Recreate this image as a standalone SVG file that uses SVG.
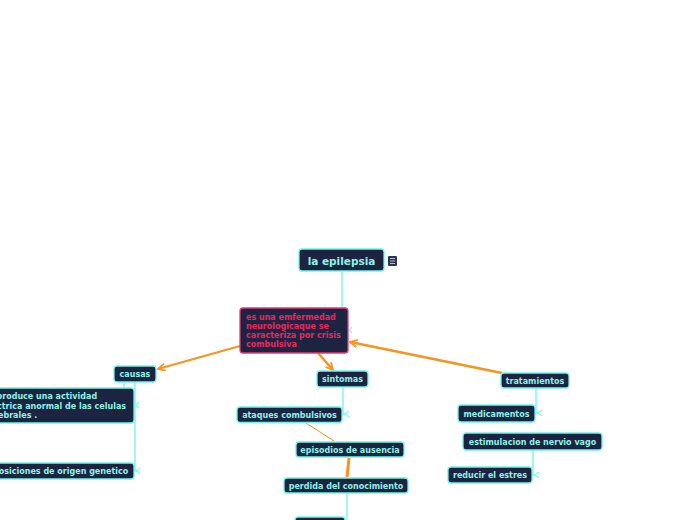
<svg xmlns="http://www.w3.org/2000/svg" width="697" height="520" viewBox="0 0 697 520">
<defs>
<style>
.n{fill:#1c2441;stroke:#6ff5e6;stroke-width:1.3}
.t{font-family:"DejaVu Sans",Verdana,sans-serif;font-weight:bold;font-size:8px;fill:#8ef2e6}
.c{text-anchor:middle}
.cy{fill:none;stroke:#7ff7ea;stroke-width:1.5}
.or{fill:none;stroke:#f7931e}
.mk{fill:none;stroke:#7ff7ea;stroke-width:1.2}
</style>
<marker id="ah" viewBox="0 0 10 10" refX="9" refY="5" markerWidth="9" markerHeight="9" markerUnits="userSpaceOnUse" orient="auto">
<path d="M1,1 L9,5 L1,9" fill="none" stroke="#f7931e" stroke-width="2"/>
</marker>
</defs>
<rect width="697" height="520" fill="#ffffff"/>
<g id="connectors">
<path class="cy" d="M342,272 V330 H348"/>
<path class="mk" d="M352,327 L349,330 L352,333"/>
<path class="cy" d="M124,382 V390"/>
<path class="cy" d="M135,382 V471 H137"/>
<path class="mk" d="M139,402 L136,405 L139,408"/>
<path class="mk" d="M140,468 L137,471 L140,474"/>
<path class="cy" d="M343,387 V414 H345"/>
<path class="mk" d="M349,411 L345,414 L349,417"/>
<path class="cy" d="M347,493 V520"/>
<path class="cy" d="M536,388 V413 H538"/>
<path class="mk" d="M542,410 L538,413 L542,416"/>
<path class="cy" d="M533,450 V475 H535"/>
<path class="mk" d="M539,472 L535,475 L539,478"/>
<path class="or" stroke-width="2" d="M240,346 L158,369" marker-end="url(#ah)"/>
<path class="or" stroke-width="2.5" d="M318,353 L333,370" marker-end="url(#ah)"/>
<path class="or" stroke-width="2.5" d="M502,373 L350,342" marker-end="url(#ah)"/>
<path class="or" stroke-width="1" d="M306,423 L334,441"/>
<path class="or" stroke-width="3" d="M349,458 L347,477"/>
</g>
<g id="root">
<rect class="n" x="299" y="249" width="85" height="22" rx="3"/>
<text class="t c" x="341.5" y="264.5" style="font-size:10.5px">la epilepsia</text>
<rect x="388" y="256" width="9" height="10" rx="1" fill="#2b3452"/>
<path d="M390,258.5 H395 M390,261 H395 M390,263.5 H395" stroke="#b8c0cc" stroke-width="1"/>
</g>
<g id="definicion">
<rect x="240" y="308" width="108" height="45" rx="3" fill="#1c2441" stroke="#e23b73" stroke-width="1.3"/>
<text class="t" x="246" y="320" style="fill:#ec2660">es una emfermedad</text>
<text class="t" x="246" y="329" style="fill:#ec2660">neurologicaque se</text>
<text class="t" x="246" y="338" style="fill:#ec2660">caracteriza por crisis</text>
<text class="t" x="246" y="347" style="fill:#ec2660">combulsiva</text>
</g>
<g id="causas">
<rect class="n" x="114" y="366" width="42" height="16" rx="3"/>
<text class="t c" x="135" y="377">causas</text>
</g>
<g id="causa1">
<rect class="n" x="-10" y="388" width="144" height="35" rx="3"/>
<text class="t" x="-3.5" y="399">produce una actividad</text>
<text class="t" x="-3" y="409">ctrica anormal de las celulas</text>
<text class="t" x="-2" y="418">ebrales .</text>
</g>
<g id="causa2">
<rect class="n" x="-10" y="463" width="144" height="16" rx="3"/>
<text class="t" x="-7" y="474">posiciones de origen genetico</text>
</g>
<g id="sintomas">
<rect class="n" x="317" y="371" width="51" height="16" rx="3"/>
<text class="t c" x="342.5" y="382">sintomas</text>
</g>
<g id="ataques">
<rect class="n" x="237" y="407" width="105" height="15.5" rx="3"/>
<text class="t c" x="289.5" y="418">ataques combulsivos</text>
</g>
<g id="episodios">
<rect class="n" x="296" y="442" width="108" height="15" rx="3"/>
<text class="t c" x="350" y="453">episodios de ausencia</text>
</g>
<g id="perdida">
<rect class="n" x="284" y="478" width="124" height="15" rx="3"/>
<text class="t c" x="346" y="489">perdida del conocimiento</text>
</g>
<g id="sintoma4">
<rect class="n" x="295" y="517" width="50" height="16" rx="3"/>
</g>
<g id="tratamientos">
<rect class="n" x="501" y="373" width="68" height="15" rx="3"/>
<text class="t c" x="535" y="384">tratamientos</text>
</g>
<g id="medicamentos">
<rect class="n" x="458" y="405" width="77" height="17" rx="3"/>
<text class="t c" x="496.5" y="417">medicamentos</text>
</g>
<g id="estimulacion">
<rect class="n" x="463" y="433" width="139" height="17" rx="3"/>
<text class="t c" x="532.5" y="445">estimulacion de nervio vago</text>
</g>
<g id="reducir">
<rect class="n" x="448" y="467" width="84" height="16" rx="3"/>
<text class="t c" x="490" y="478">reducir el estres</text>
</g>
</svg>
